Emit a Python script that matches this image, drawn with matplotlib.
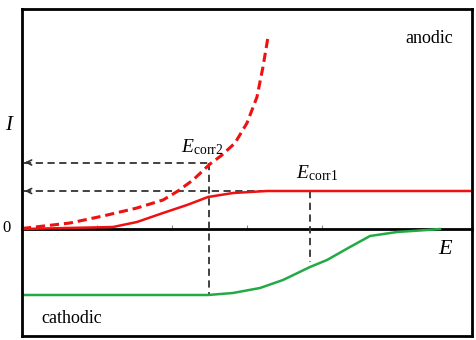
import matplotlib
matplotlib.use("Agg")
import matplotlib.pyplot as plt

plt.rcParams['font.family'] = ['Liberation Serif', 'DejaVu Serif']
plt.rcParams['mathtext.fontset'] = 'custom'
plt.rcParams['mathtext.rm'] = 'Liberation Serif'
plt.rcParams['mathtext.it'] = 'Liberation Serif:italic'

# Data (E in arbitrary units, I in arbitrary units)
red_solid_E = [0, 1.213, 1.533, 1.88, 2.2, 2.48, 2.813, 3.267, 3.84, 6.0]
red_solid_I = [0, 0.2, 0.7, 1.6, 2.4, 3.2, 3.6, 3.8, 3.8, 3.8]

red_dash_E = [0, 0.64, 1.08, 1.533, 1.88, 2.08, 2.28, 2.507, 2.667, 2.84, 3.0, 3.133, 3.213, 3.28]
red_dash_I = [0.05, 0.6, 1.3, 2.1, 2.9, 3.8, 4.9, 6.5, 7.4, 8.6, 10.6, 13.2, 16.2, 19.2]

green_E = [0, 2.48, 2.813, 3.173, 3.48, 3.84, 4.067, 4.373, 4.64, 5.0, 5.4, 5.573]
green_I = [-6.6, -6.6, -6.4, -5.9, -5.1, -3.8, -3.1, -1.8, -0.7, -0.3, -0.1, 0]

E_corr1, I_corr1, I_corr1_low = 3.84, 3.8, -3.3
E_corr2, I_corr2, I_corr2_low = 2.49, 6.65, -6.6
tick_positions = [1, 2, 3, 4]

xlim = (0, 6)
ylim = (-10.7, 22.0)

fig = plt.figure(figsize=(4.77, 3.40), dpi=100)
ax = fig.add_axes([22/477, 4/340, 450/477, 327/340])
ax.set_xlim(*xlim)
ax.set_ylim(*ylim)
ax.set_xticks([])
ax.set_yticks([])
for s in ax.spines.values():
    s.set_linewidth(2)
    s.set_color('black')

# zero line with small ticks
frac = (0 - ylim[0]) / (ylim[1] - ylim[0])
sec = ax.secondary_xaxis(frac)
sec.set_xticks(tick_positions)
sec.set_xticklabels([])
sec.tick_params(direction='in', length=3, width=0.8, color='#888888')
sec.spines['bottom'].set_linewidth(2)
sec.spines['bottom'].set_color('black')

dash_style = dict(color='#333333', lw=1.3, ls=(0, (4, 2.5)))

# guide lines
ax.plot([E_corr1, E_corr1], [I_corr1, I_corr1_low], **dash_style)
ax.plot([E_corr2, E_corr2], [I_corr2, I_corr2_low], **dash_style)
ax.plot([0.03, E_corr1], [I_corr1, I_corr1], **dash_style)
ax.plot([0.03, E_corr2], [I_corr2, I_corr2], **dash_style)
for yv in (I_corr1, I_corr2):
    ax.annotate('', xy=(0.0, yv), xytext=(0.12, yv),
                arrowprops=dict(arrowstyle='->', color='#333333', lw=1.2,
                                mutation_scale=9))

# curves
ax.plot(red_solid_E, red_solid_I, color='#ee1111', lw=1.8, solid_capstyle='round',
        solid_joinstyle='round')
ax.plot(red_dash_E, red_dash_I, color='#ee1111', lw=2.2, ls=(0, (3, 1.6)))
ax.plot(green_E, green_I, color='#22aa44', lw=1.8, solid_joinstyle='round')

# texts
ax.text(0.958, 0.91, 'anodic', transform=ax.transAxes, ha='right', va='center', fontsize=13)
ax.text(0.044, 0.055, 'cathodic', transform=ax.transAxes, ha='left', va='center', fontsize=13)
fig.text(10/477, 1 - 125/340, r'$I$', ha='center', va='center', fontsize=15)
fig.text(7/477, 1 - 228/340, '0', ha='center', va='center', fontsize=12)
fig.text(446/477, 1 - 249/340, r'$E$', ha='center', va='center', fontsize=16)
fig.text(202/477, 1 - 147/340, r'$E_{\mathrm{corr2}}$', ha='center', va='center', fontsize=14)
fig.text(317/477, 1 - 173/340, r'$E_{\mathrm{corr1}}$', ha='center', va='center', fontsize=14)

fig.savefig('out.png', dpi=100)
